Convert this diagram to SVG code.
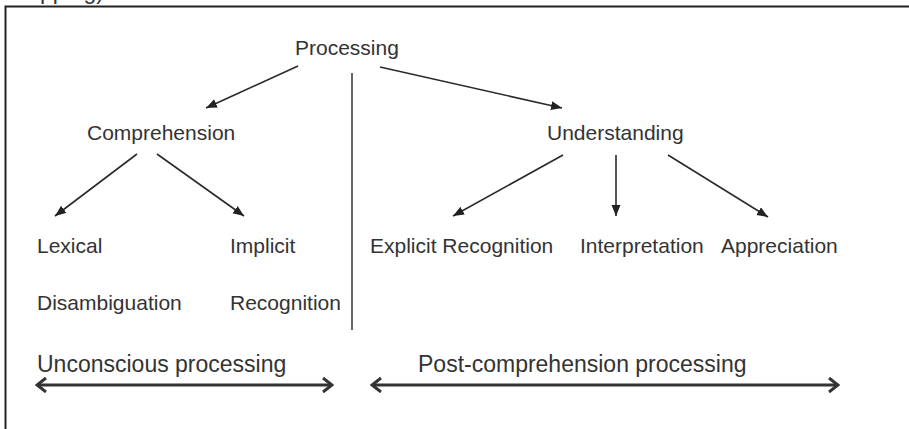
<svg xmlns="http://www.w3.org/2000/svg" width="909" height="429" viewBox="0 0 909 429">
<defs>
<style>
.t{font-family:"Liberation Sans",Arial,sans-serif;font-size:21px;fill:#333}
.b{font-family:"Liberation Sans",Arial,sans-serif;font-size:23px;fill:#333}
.c{stroke:#2a2a2a;stroke-width:1.6;fill:none}
.d{stroke:#333;stroke-width:3;fill:none}
</style>
<marker id="tri" markerUnits="userSpaceOnUse" markerWidth="12" markerHeight="10" refX="11" refY="4.5" orient="auto">
<path d="M0,0 L11,4.5 L0,9 z" fill="#222"/>
</marker>
<marker id="chev" markerUnits="userSpaceOnUse" markerWidth="12" markerHeight="18" refX="10" refY="8" orient="auto-start-reverse">
<path d="M1,1 L10,8 L1,15" fill="none" stroke="#333" stroke-width="3"/>
</marker>
</defs>
<rect width="909" height="429" fill="#fff"/>
<text class="b" x="40" y="-1" font-size="25">pping)</text>
<path d="M5.5,429 L5.5,6.5 L909,6.5" fill="none" stroke="#222" stroke-width="2"/>
<g id="connectors">
<line class="c" x1="298" y1="66" x2="206" y2="108" marker-end="url(#tri)"/>
<line class="c" x1="380" y1="67" x2="562" y2="108" marker-end="url(#tri)"/>
<line class="c" x1="137" y1="154" x2="55" y2="216" marker-end="url(#tri)"/>
<line class="c" x1="157" y1="154" x2="244" y2="216" marker-end="url(#tri)"/>
<line class="c" x1="563" y1="155" x2="453" y2="216" marker-end="url(#tri)"/>
<line class="c" x1="616" y1="155" x2="616" y2="216" marker-end="url(#tri)"/>
<line class="c" x1="668" y1="155" x2="768" y2="217" marker-end="url(#tri)"/>
<line x1="352" y1="73" x2="352" y2="330" stroke="#333" stroke-width="1.5"/>
<line class="d" x1="37" y1="385" x2="332" y2="385" marker-start="url(#chev)" marker-end="url(#chev)"/>
<line class="d" x1="372" y1="385" x2="838" y2="385" marker-start="url(#chev)" marker-end="url(#chev)"/>
</g>
<g id="processing"><text class="t" x="295" y="55">Processing</text></g>
<g id="comprehension"><text class="t" x="87" y="140">Comprehension</text></g>
<g id="understanding"><text class="t" x="547" y="140">Understanding</text></g>
<g id="lexical"><text class="t" x="37" y="253">Lexical</text><text class="t" x="37" y="310">Disambiguation</text></g>
<g id="implicit"><text class="t" x="230" y="253">Implicit</text><text class="t" x="230" y="310">Recognition</text></g>
<g id="explicit"><text class="t" x="370" y="253">Explicit Recognition</text></g>
<g id="interpretation"><text class="t" x="580" y="253">Interpretation</text></g>
<g id="appreciation"><text class="t" x="721" y="253">Appreciation</text></g>
<g id="unconscious"><text class="b" x="37" y="372">Unconscious processing</text></g>
<g id="postcomp"><text class="b" x="418" y="372">Post-comprehension processing</text></g>
</svg>
